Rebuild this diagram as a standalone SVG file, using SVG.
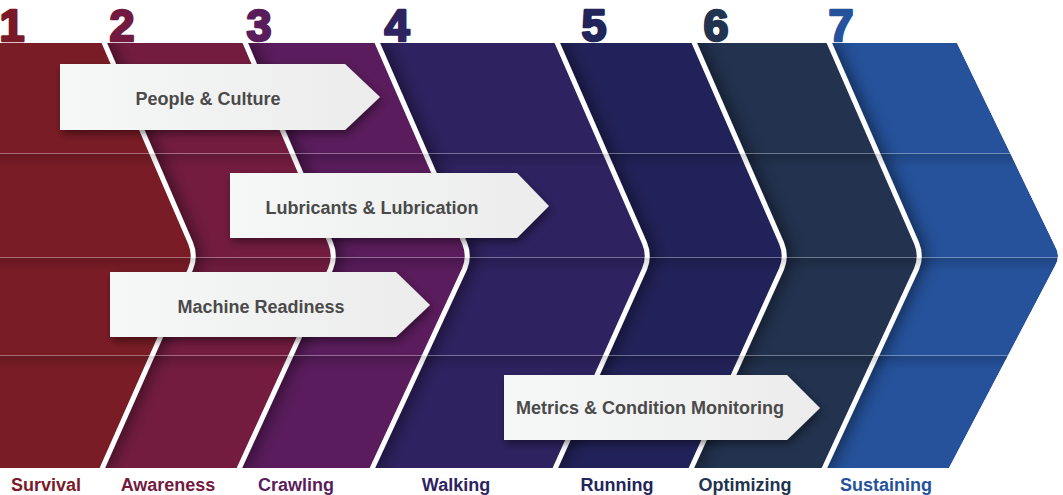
<svg xmlns="http://www.w3.org/2000/svg" width="1063" height="495" viewBox="0 0 1063 495">
  <defs>
    <style>
      .num { font-family: "Liberation Sans", Arial, sans-serif; font-weight: bold; font-size: 45px; text-anchor: middle; stroke-width: 2.5; stroke-linejoin: round; }
      .lbl { font-family: "Liberation Sans", Arial, sans-serif; font-weight: bold; font-size: 18px; text-anchor: middle; }
      .call { font-family: "Liberation Sans", Arial, sans-serif; font-weight: bold; font-size: 18px; text-anchor: middle; fill: #4a4a4a; }
      .sep { fill: none; stroke: #ffffff; stroke-width: 5; stroke-linejoin: round; stroke-linecap: butt; }
      .hl { stroke: #ffffff; stroke-opacity: 0.35; stroke-width: 1; }
      .box { fill: url(#boxg); filter: url(#bsh); }
    </style>
    <linearGradient id="boxg" x1="0" y1="0" x2="1" y2="0">
      <stop offset="0" stop-color="#f6f7f7"/>
      <stop offset="1" stop-color="#ececec"/>
    </linearGradient>
    <linearGradient id="shade" x1="0" y1="0" x2="0" y2="1">
      <stop offset="0" stop-color="#000" stop-opacity="0.16"/>
      <stop offset="1" stop-color="#000" stop-opacity="0"/>
    </linearGradient>
    <filter id="csh" x="-10%" y="-10%" width="130%" height="120%">
      <feDropShadow dx="4" dy="0" stdDeviation="8" flood-color="#000" flood-opacity="0.5"/>
    </filter>
    <filter id="bsh" x="-10%" y="-20%" width="125%" height="150%">
      <feDropShadow dx="2" dy="4" stdDeviation="4" flood-color="#000" flood-opacity="0.45"/>
    </filter>
    <clipPath id="band">
      <path d="M0,43 L957,43 L1055,246 Q1061,256 1055,266 L949,468 L0,468 Z"/>
    </clipPath>
  </defs>

  <g id="numbers">
    <text class="num" x="12" y="41" fill="#7a1a28" stroke="#7a1a28">1</text>
    <text class="num" x="122" y="41" fill="#731a40" stroke="#731a40">2</text>
    <text class="num" x="259" y="41" fill="#5a1d5c" stroke="#5a1d5c">3</text>
    <text class="num" x="397" y="41" fill="#2d2360" stroke="#2d2360">4</text>
    <text class="num" x="594" y="41" fill="#22245a" stroke="#22245a">5</text>
    <text class="num" x="716" y="41" fill="#21334f" stroke="#21334f">6</text>
    <text class="num" x="841" y="41" fill="#25529b" stroke="#25529b">7</text>
  </g>

  <g id="chevrons" clip-path="url(#band)">
    <g id="stage7">
      <path fill="#25529b" d="M828,43 L957,43 L1055,246 Q1061,256 1055,266 L949,468 L823,468 L916.5,269 Q922,256 916.5,243 Z"/>
    </g>
    <g id="stage6" filter="url(#csh)">
      <path fill="#21334f" d="M693,43 L828,43 L916.5,243 Q922,256 916.5,269 L823,468 L690,468 L781.5,269 Q787,256 781.5,243 Z"/>
      <path class="sep" d="M828,40 L916.5,243 Q922,256 916.5,269 L823,471"/>
    </g>
    <g id="stage5" filter="url(#csh)">
      <path fill="#22245a" d="M556,43 L693,43 L781.5,243 Q787,256 781.5,269 L690,468 L554,468 L644.5,269 Q650,256 644.5,243 Z"/>
      <path class="sep" d="M693,40 L781.5,243 Q787,256 781.5,269 L690,471"/>
    </g>
    <g id="stage4" filter="url(#csh)">
      <path fill="#2d2360" d="M376,43 L556,43 L644.5,243 Q650,256 644.5,269 L554,468 L371,468 L464.5,269 Q470,256 464.5,243 Z"/>
      <path class="sep" d="M556,40 L644.5,243 Q650,256 644.5,269 L554,471"/>
    </g>
    <g id="stage3" filter="url(#csh)">
      <path fill="#5a1d5c" d="M244,43 L376,43 L464.5,243 Q470,256 464.5,269 L371,468 L238,468 L330.5,269 Q336,256 330.5,243 Z"/>
      <path class="sep" d="M376,40 L464.5,243 Q470,256 464.5,269 L371,471"/>
    </g>
    <g id="stage2" filter="url(#csh)">
      <path fill="#731a40" d="M103,43 L244,43 L330.5,243 Q336,256 330.5,269 L238,468 L101,468 L190.5,269 Q196,256 190.5,243 Z"/>
      <path class="sep" d="M244,40 L330.5,243 Q336,256 330.5,269 L238,471"/>
    </g>
    <g id="stage1" filter="url(#csh)">
      <path fill="#7a1a28" d="M0,43 L103,43 L190.5,243 Q196,256 190.5,269 L101,468 L0,468 Z"/>
      <path class="sep" d="M103,40 L190.5,243 Q196,256 190.5,269 L101,471"/>
    </g>
    <g id="rows">
      <rect x="0" y="154" width="1063" height="14" fill="url(#shade)"/>
      <rect x="0" y="258" width="1063" height="14" fill="url(#shade)"/>
      <rect x="0" y="356" width="1063" height="14" fill="url(#shade)"/>
      <line class="hl" x1="0" y1="153.5" x2="1063" y2="153.5"/>
      <line class="hl" x1="0" y1="257.5" x2="1063" y2="257.5"/>
      <line class="hl" x1="0" y1="355.5" x2="1063" y2="355.5"/>
    </g>
  </g>

  <g id="stage-labels">
    <text class="lbl" x="46" y="491" fill="#7a1a28">Survival</text>
    <text class="lbl" x="168" y="491" fill="#731a40">Awareness</text>
    <text class="lbl" x="296" y="491" fill="#5a1d5c">Crawling</text>
    <text class="lbl" x="456" y="491" fill="#2d2360">Walking</text>
    <text class="lbl" x="617" y="491" fill="#22245a">Running</text>
    <text class="lbl" x="745" y="491" fill="#21334f">Optimizing</text>
    <text class="lbl" x="886" y="491" fill="#25529b">Sustaining</text>
  </g>

  <g id="people-culture">
    <path class="box" d="M60,64 H345 L380,97 L345,130 H60 Z"/>
    <text class="call" x="208" y="105">People &amp; Culture</text>
  </g>
  <g id="lubricants">
    <path class="box" d="M230,173 H517 L549,206 L517,238 H230 Z"/>
    <text class="call" x="372" y="214">Lubricants &amp; Lubrication</text>
  </g>
  <g id="machine-readiness">
    <path class="box" d="M110,272 H396 L430,305 L396,337 H110 Z"/>
    <text class="call" x="261" y="313">Machine Readiness</text>
  </g>
  <g id="metrics">
    <path class="box" d="M504,375 H787 L820,408 L787,440 H504 Z"/>
    <text class="call" x="650" y="414">Metrics &amp; Condition Monitoring</text>
  </g>
  <g id="connectors"></g>
</svg>
